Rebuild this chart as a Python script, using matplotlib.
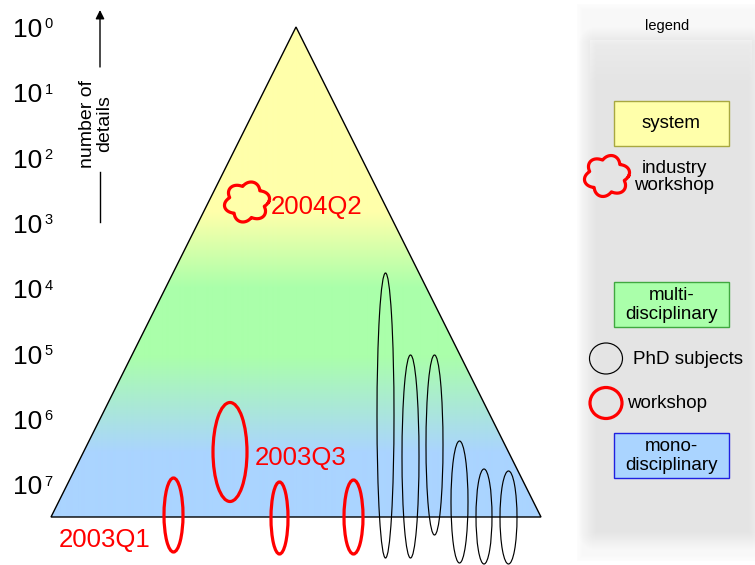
import numpy as np
import matplotlib
matplotlib.use("Agg")
import matplotlib.pyplot as plt
from matplotlib.patches import Ellipse, Polygon, Rectangle
from matplotlib.colors import to_rgb

# ---------------- data ----------------
exponents = [0, 1, 2, 3, 4, 5, 6, 7]
axis_title = "number of\ndetails"

# gradient levels of the pyramid (pixel rows) and colours
grad_rows = [27, 212, 287, 355, 452, 517]
grad_cols = ["#FFFFAA", "#FFFFAA", "#AAFFAA", "#AAFFAA", "#AAD4FF", "#AAD4FF"]

# workshops (red ellipses): centre x, centre y, width, height
ws_x = [173.5, 230, 279.5, 353.5]
ws_y = [515, 452, 518, 517]
ws_w = [19, 34, 17, 19]
ws_h = [74, 99, 72, 74]

# PhD subjects (black ellipses)
phd_x = [385.5, 410.5, 434.5, 459.5, 484, 508.5]
phd_y = [415.5, 456.5, 445, 502, 516.5, 517.5]
phd_w = [17, 17, 17, 17, 16, 17]
phd_h = [285, 203, 180, 122, 95, 93]

# industry workshop cloud
cloud_x, cloud_y, cloud_w, cloud_h = 247, 202, 46, 41

labels = ["2003Q1", "2003Q3", "2004Q2"]
label_x = [59, 255, 271]
label_y = [540, 458, 207]

legend_boxes = ["system", "multi-\ndisciplinary", "mono-\ndisciplinary"]
legend_box_y = [101, 282, 433]
legend_box_fc = ["#FFFFAA", "#AAFFAA", "#AAD4FF"]
legend_box_ec = ["#A8A840", "#40A840", "#2020E0"]

# ---------------- figure ----------------
W, H = 755, 565
fig = plt.figure(figsize=(W / 100, H / 100), dpi=100)
ax = fig.add_axes([0, 0, 1, 1])
ax.axis("off")

SANS = ["Liberation Sans", "DejaVu Sans"]
NARROW = ["Liberation Sans Narrow", "Liberation Sans", "DejaVu Sans"]

# ---------------- legend panel background (soft) ----------------
px = np.arange(570, W) + 0.5
py = np.arange(0, H) + 0.5
X, Y = np.meshgrid(px, py)
dx = np.maximum(np.maximum(596 - X, X - 749), 0)
dy = np.maximum(np.maximum(45 - Y, Y - 532), 0)
d = np.hypot(dx, dy)
val = 0.898 + 0.075 * np.clip(d / 18.0, 0, 1)
outside = (X < 577) | (Y < 4) | (Y > 561)
val[outside] = 1.0
# soft outer fade
do = np.minimum(np.minimum(X - 577, Y - 4), 561 - Y)
val = np.where(~outside, np.minimum(val + 0.02 * (1 - np.clip(do / 6.0, 0, 1)), 1.0), val)
# faint lighter bevel at the top of the inner area
bevel = (Y > 40) & (Y < 80) & (X > 590) & (X < 752)
val[bevel] = np.minimum(val[bevel] + 0.025 * (80 - Y[bevel]) / 40.0, 1.0)
panel = np.repeat(val[:, :, None], 3, axis=2)
ax.imshow(panel, extent=[570, W, H, 0], aspect="auto", zorder=0, interpolation="bilinear")

# pyramid with vertical gradient
apex = (296, 27)
bl = (51, 517)
br = (541, 517)
rows = np.arange(0, H)
rgb = np.array([to_rgb(c) for c in grad_cols])
grad = np.stack([np.interp(rows, grad_rows, rgb[:, i]) for i in range(3)], axis=-1)
img = np.repeat(grad[:, None, :], 2, axis=1)
im = ax.imshow(img, extent=[0, W, H, 0], aspect="auto", zorder=1, interpolation="bilinear")
clip = Polygon([apex, bl, br], closed=True, transform=ax.transData)
im.set_clip_path(clip)
ax.add_patch(Polygon([apex, bl, br], closed=True, fc="none", ec="black", lw=1.0, zorder=3))

# y labels 10^k
top, step = 27.5, 65.3
for k in exponents:
    yc = top + k * step
    ax.text(13, yc + 9.5, "10", family=NARROW, fontsize=19, ha="left", va="baseline", color="black")
    ax.text(44.5, yc + 1.0, str(k), family=NARROW, fontsize=10.5, ha="left", va="baseline", color="black")

# axis arrow and title
ax.annotate("", xy=(100, 10), xytext=(100, 67),
            arrowprops=dict(arrowstyle="-|>", color="black", lw=1.0, mutation_scale=13,
                            shrinkA=0, shrinkB=0))
ax.plot([100, 100], [172, 222], color="black", lw=1.0)
ax.text(96, 124, axis_title, rotation=90, ha="center", va="center", family=NARROW,
        fontsize=14, linespacing=1.0)

# workshops
for x, y, w, h in zip(ws_x, ws_y, ws_w, ws_h):
    ax.add_patch(Ellipse((x, y), w, h, fc="none", ec="#FF0000", lw=2.3, zorder=5))

# PhD subjects
for x, y, w, h in zip(phd_x, phd_y, phd_w, phd_h):
    ax.add_patch(Ellipse((x, y), w, h, fc="none", ec="black", lw=0.85, zorder=5))


def cloud(cx, cy, w, h, lw):
    t = np.linspace(0, 2 * np.pi, 600)
    r = 0.78 + 0.22 * np.abs(np.cos(3 * (t + 0.25)))
    xs = cx + 0.5 * w * r * np.cos(t)
    ys = cy + 0.5 * h * r * np.sin(t)
    ax.plot(xs, ys, color="#FF0000", lw=lw, zorder=6, solid_joinstyle="round")


cloud(cloud_x, cloud_y, cloud_w, cloud_h, 2.3)

for s, x, y in zip(labels, label_x, label_y):
    ax.text(x, y, s, family=SANS, fontsize=18.5, color="#FF0000", ha="left", va="center", zorder=7)

# ---------------- legend content ----------------
ax.text(667, 26, "legend", family=SANS, fontsize=10.5, ha="center", va="center")

for s, y, fc, ec in zip(legend_boxes, legend_box_y, legend_box_fc, legend_box_ec):
    ax.add_patch(Rectangle((614, y), 115, 45, fc=fc, ec=ec, lw=1.0, zorder=3))
    ax.text(671.5, y + 23, s, family=SANS, fontsize=13.5, ha="center", va="center",
            linespacing=1.1, zorder=4)

cloud(607, 176, 46, 42, 2.3)
ax.text(674, 177, "industry\nworkshop", family=SANS, fontsize=13.5, ha="center", va="center",
        linespacing=1.05, zorder=4)
ax.add_patch(Ellipse((606, 358.5), 33, 31, fc="none", ec="black", lw=0.85, zorder=5))
ax.text(633, 359, "PhD subjects", family=SANS, fontsize=13.5, ha="left", va="center", zorder=4)
ax.add_patch(Ellipse((606, 403), 32, 31, fc="none", ec="#FF0000", lw=2.3, zorder=5))
ax.text(627, 404, "workshop", family=SANS, fontsize=13.5, ha="left", va="center", zorder=4)

ax.set_xlim(0, W)
ax.set_ylim(H, 0)
fig.savefig("out.png", dpi=100)
